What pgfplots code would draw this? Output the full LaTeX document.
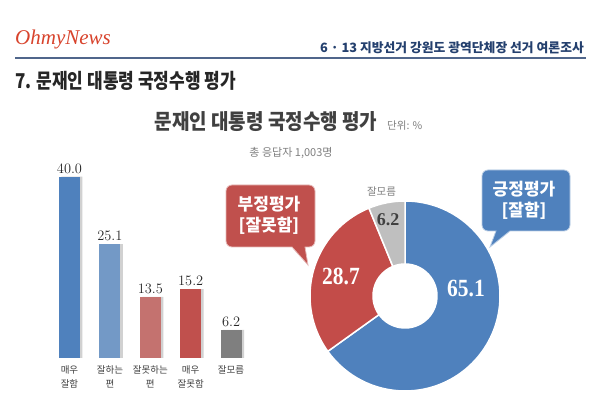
\documentclass[border=0pt]{standalone}
\usepackage{pgfplots}
\pgfplotsset{compat=1.18}
\usepackage{fontspec}
\setmainfont{Noto Sans CJK KR}
\newfontfamily\serif{Liberation Serif}
\newfontfamily\logofont{Liberation Serif}

\definecolor{blueA}{HTML}{4F81BD}
\definecolor{blueB}{HTML}{7399C6}
\definecolor{redA}{HTML}{C4726F}
\definecolor{redB}{HTML}{C0504D}
\definecolor{greyA}{HTML}{7F7F7F}
\definecolor{greyD}{HTML}{BFBFBF}
\definecolor{navy}{HTML}{24406E}
\definecolor{logored}{HTML}{D8432C}
\definecolor{txt}{HTML}{404040}

\begin{document}
\begin{tikzpicture}
\useasboundingbox (0pt,0pt) rectangle (600pt,409pt);
\fill[white] (0pt,0pt) rectangle (600pt,409pt);

% header
\node[anchor=base west, inner sep=0, text=logored, font=\logofont\itshape\fontsize{21}{24}\selectfont] at (15pt,364pt) {OhmyNews};
\node[anchor=east, inner sep=0, text=navy, font=\bfseries\fontsize{12.8}{14}\selectfont] at (584pt,361pt)
  {6 · 13 지방선거 강원도 광역단체장 선거 여론조사};
\draw[navy!80, line width=1.4pt] (15pt,351pt) -- (586pt,351pt);
\node[anchor=west, inner sep=0, text=black!85, font=\bfseries\fontsize{17}{20}\selectfont] at (15pt,328pt)
  {\scalebox{1}[1.2]{7. 문재인 대통령 국정수행 평가}};

% chart title
\node[anchor=center, inner sep=0, text=txt, font=\bfseries\fontsize{19}{22}\selectfont] at (266pt,287pt)
  {\scalebox{1}[1.12]{문재인 대통령 국정수행 평가}};
\node[anchor=west, inner sep=0, text=greyA, font=\fontsize{10.5}{12}\selectfont] at (387pt,283pt) {단위: \%};
\node[anchor=center, inner sep=0, text=greyA, font=\fontsize{11}{13}\selectfont] at (291pt,256pt) {총 응답자 1,003명};

% bar chart
\begin{axis}[
    at={(49.3pt,51pt)}, anchor=south west,
    width=202pt, height=181.3pt, scale only axis,
    xmin=-0.5, xmax=4.5, ymin=0, ymax=40,
    ybar, bar width=21pt, clip=false,
    axis line style={draw=none}, tick style={draw=none},
    ytick=\empty,
    xtick={0,1,2,3,4},
    xticklabels={{매우\\잘함},{잘하는\\편},{잘못하는\\편},{매우\\잘못함},{잘모름}},
    xticklabel style={align=center, text=txt, font=\fontsize{9.5}{14}\selectfont},
    nodes near coords,
    nodes near coords style={text=black!85, font=\serif\fontsize{14}{16}\selectfont,
      /pgf/number format/.cd, fixed, fixed zerofill, precision=1},
]
\addplot[fill=black!18, draw=none, bar shift=2.5pt, nodes near coords={}]
  coordinates {(0,40.0) (1,25.1) (2,13.5) (3,15.2) (4,6.2)};
\addplot[fill=blueA, draw=none, bar shift=0pt] coordinates {(0,40.0)};
\addplot[fill=blueB, draw=none, bar shift=0pt] coordinates {(1,25.1)};
\addplot[fill=redA, draw=none, bar shift=0pt] coordinates {(2,13.5)};
\addplot[fill=redB, draw=none, bar shift=0pt] coordinates {(3,15.2)};
\addplot[fill=greyA, draw=none, bar shift=0pt] coordinates {(4,6.2)};
\end{axis}

% donut chart
\def\vPos{65.1}
\def\vNeg{28.7}
\def\vDk{6.2}
\pgfmathsetmacro\aA{90}
\pgfmathsetmacro\aB{\aA-3.6*\vPos}
\pgfmathsetmacro\aC{\aB-3.6*\vNeg}
\pgfmathsetmacro\aD{\aC-3.6*\vDk}
\begin{axis}[
    at={(310pt,18pt)}, anchor=south west,
    width=190pt, height=190pt, scale only axis,
    xmin=-1, xmax=1, ymin=-1, ymax=1,
    hide axis, clip=false,
]
\coordinate (c) at (axis cs:0,0);
\fill[blueA, draw=white, line width=1.5pt] ([shift={(\aA:95pt)}]c) arc[start angle=\aA, end angle=\aB, radius=95pt]
  -- ([shift={(\aB:32pt)}]c) arc[start angle=\aB, end angle=\aA, radius=32pt] -- cycle;
\fill[redB!95!red, draw=white, line width=1.5pt] ([shift={(\aB:95pt)}]c) arc[start angle=\aB, end angle=\aC, radius=95pt]
  -- ([shift={(\aC:32pt)}]c) arc[start angle=\aC, end angle=\aB, radius=32pt] -- cycle;
\fill[greyD, draw=white, line width=1.5pt] ([shift={(\aC:95pt)}]c) arc[start angle=\aC, end angle=\aD, radius=95pt]
  -- ([shift={(\aD:32pt)}]c) arc[start angle=\aD, end angle=\aC, radius=32pt] -- cycle;
\end{axis}
\node[text=white, font=\serif\bfseries\fontsize{21.5}{24}\selectfont] at ([shift={(61pt,7.5pt)}]c) {\scalebox{1}[1.15]{\vPos}};
\node[text=white, font=\serif\bfseries\fontsize{21.5}{24}\selectfont] at ([shift={(-64pt,19.5pt)}]c) {\scalebox{1}[1.15]{\vNeg}};
\node[text=txt, font=\serif\bfseries\fontsize{18}{20}\selectfont] at ([shift={(-17pt,76.5pt)}]c) {\vDk};
\node[text=greyA, font=\fontsize{10.5}{12}\selectfont] at ([shift={(-23.5pt,104pt)}]c) {잘모름};

% callouts
\fill[blueA, draw=blueA!40!white, line width=0.8pt]
  (510pt,178pt) [rounded corners=6pt] -- (570pt,178pt) -- (570pt,239pt) -- (482pt,239pt) -- (482pt,178pt) [sharp corners] -- (496pt,178pt) -- (490pt,162pt) -- cycle;
\node[align=center, text=white, font=\bfseries\fontsize{17}{21}\selectfont] at (524pt,208.5pt) {긍정평가\\{[}잘함{]}};
\fill[redB, draw=redB!40!white, line width=0.8pt]
  (292pt,162pt) [rounded corners=6pt] -- (226pt,162pt) -- (226pt,224pt) -- (315pt,224pt) -- (315pt,162pt) [sharp corners] -- (305pt,162pt) -- (308pt,144pt) -- cycle;
\node[align=center, text=white, font=\bfseries\fontsize{17}{21}\selectfont] at (269pt,193.5pt) {부정평가\\{[}잘못함{]}};
\end{tikzpicture}
\end{document}
